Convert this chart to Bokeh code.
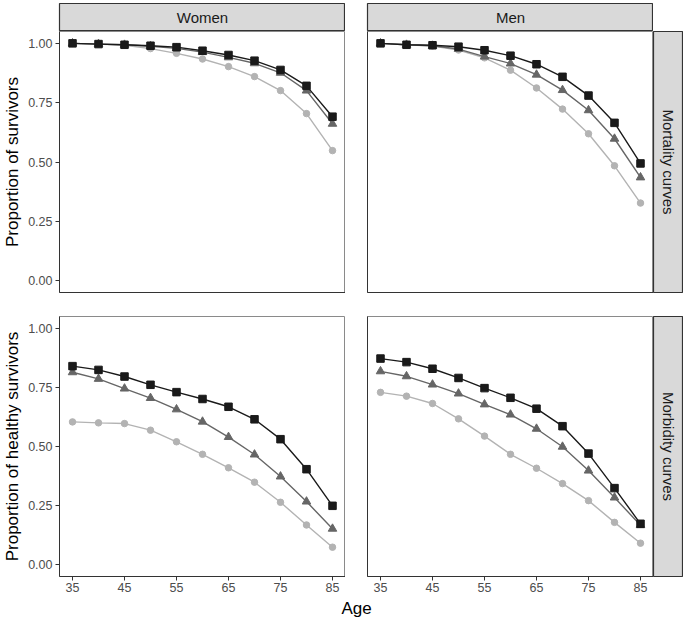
import math
from bokeh.plotting import figure
from bokeh.models import Range1d, Label, Spacer, FixedTicker
from bokeh.layouts import row, column
from bokeh.embed import file_html
from bokeh.resources import INLINE

# ---------------- data ----------------
ages = [35, 40, 45, 50, 55, 60, 65, 70, 75, 80, 85]
x_ticks = [35, 45, 55, 65, 75, 85]
y_ticks = [0.0, 0.25, 0.5, 0.75, 1.0]
y_tick_labels = ["0.00", "0.25", "0.50", "0.75", "1.00"]

col_labels = ["Women", "Men"]
row_labels = ["Mortality curves", "Morbidity curves"]
y_titles = ["Proportion of survivors", "Proportion of healthy survivors"]
x_title = "Age"

# Mortality curves
women_mort_square = [1.000, 0.997, 0.994, 0.990, 0.984, 0.969, 0.951, 0.927, 0.888, 0.821, 0.691]
women_mort_triangle = [1.000, 0.997, 0.994, 0.988, 0.979, 0.963, 0.941, 0.916, 0.876, 0.801, 0.661]
women_mort_circle = [1.000, 0.997, 0.992, 0.978, 0.958, 0.934, 0.902, 0.860, 0.801, 0.704, 0.548]

men_mort_square = [1.000, 0.994, 0.992, 0.986, 0.971, 0.948, 0.912, 0.859, 0.780, 0.665, 0.494]
men_mort_triangle = [1.000, 0.994, 0.990, 0.976, 0.944, 0.915, 0.868, 0.803, 0.718, 0.598, 0.435]
men_mort_circle = [1.000, 0.994, 0.989, 0.972, 0.939, 0.887, 0.812, 0.723, 0.619, 0.484, 0.327]

# Morbidity curves
women_morb_square = [0.840, 0.824, 0.796, 0.761, 0.730, 0.701, 0.668, 0.615, 0.531, 0.404, 0.249]
women_morb_triangle = [0.814, 0.786, 0.745, 0.705, 0.657, 0.605, 0.540, 0.466, 0.373, 0.267, 0.152]
women_morb_circle = [0.604, 0.600, 0.597, 0.569, 0.520, 0.467, 0.410, 0.349, 0.264, 0.168, 0.074]

men_morb_square = [0.872, 0.857, 0.829, 0.790, 0.747, 0.706, 0.660, 0.586, 0.470, 0.324, 0.173]
men_morb_triangle = [0.818, 0.797, 0.762, 0.724, 0.678, 0.635, 0.575, 0.499, 0.398, 0.284, 0.167]
men_morb_circle = [0.729, 0.713, 0.682, 0.617, 0.544, 0.467, 0.408, 0.343, 0.271, 0.179, 0.091]

# ---------------- style ----------------
FONT = "Liberation Sans"
C_SQ = "#1a1a1a"
C_TRI = "#666666"
C_CIR = "#b3b3b3"
STRIP_FILL = "#d9d9d9"
STRIP_LINE = "#333333"
OUTLINE = "#8a8a8a"
AXIS = "#333333"

FW = 286      # panel frame width
FH_TOP = 261
FH_BOT = 260
LEFT = 59     # left border (y axis)
GAP_X = 22
GAP_Y = 24
TOP_PAD = 3
STRIP_H = 28
STRIP_W = 30
BOTTOM = 22
AGE_H = 20


def make_panel(sq, tri, cir, fh, left_axis, bottom_axis, ylabel):
    p = figure(frame_width=FW, frame_height=fh,
               x_range=Range1d(32.5, 87.5), y_range=Range1d(-0.05, 1.05),
               output_backend="svg", toolbar_location=None,
               min_border_left=LEFT if left_axis else GAP_X,
               min_border_right=0, min_border_top=0,
               min_border_bottom=BOTTOM if bottom_axis else GAP_Y)
    p.xgrid.visible = False
    p.ygrid.visible = False
    p.outline_line_color = OUTLINE
    p.outline_line_width = 1
    p.background_fill_color = "white"
    p.border_fill_color = "white"

    for ax in (p.xaxis[0], p.yaxis[0]):
        ax.axis_line_color = AXIS
        ax.axis_line_width = 1
        ax.major_tick_line_color = AXIS
        ax.major_tick_out = 4
        ax.major_tick_in = 0
        ax.minor_tick_line_color = None
        ax.major_label_text_font = FONT
        ax.major_label_text_font_size = "12.5px"
        ax.major_label_text_color = "#4d4d4d"
        ax.major_label_standoff = 2
        ax.axis_label_text_font = FONT
        ax.axis_label_text_font_size = "17px"
        ax.axis_label_text_font_style = "normal"
        ax.axis_label_text_color = "black"

    if bottom_axis:
        p.xaxis.ticker = FixedTicker(ticks=x_ticks)
        p.xaxis.major_label_overrides = {t: str(t) for t in x_ticks}
    else:
        p.xaxis.ticker = FixedTicker(ticks=[])
    if left_axis:
        p.yaxis.ticker = FixedTicker(ticks=y_ticks)
        p.yaxis.major_label_overrides = dict(zip(y_ticks, y_tick_labels))
        p.yaxis.major_label_standoff = 3
        p.yaxis.axis_label = ylabel
        p.yaxis.axis_label_standoff = 3
    else:
        p.yaxis.ticker = FixedTicker(ticks=[])

    p.line(ages, cir, line_color=C_CIR, line_width=1.4)
    p.scatter(ages, cir, marker="circle", size=6.5, fill_color=C_CIR, line_color=C_CIR)
    p.line(ages, tri, line_color=C_TRI, line_width=1.4)
    p.scatter(ages, tri, marker="triangle", size=8.5, fill_color=C_TRI, line_color=C_TRI)
    p.line(ages, sq, line_color=C_SQ, line_width=1.4)
    p.scatter(ages, sq, marker="square", size=7.5, fill_color=C_SQ, line_color=C_SQ)
    return p


def make_strip(text, fw, fh, bl, bt, bb, vertical=False):
    s = figure(frame_width=fw, frame_height=fh,
               x_range=Range1d(0, 1), y_range=Range1d(0, 1),
               x_axis_type=None, y_axis_type=None,
               output_backend="svg", toolbar_location=None,
               min_border_left=bl, min_border_right=0,
               min_border_top=bt, min_border_bottom=bb)
    s.xgrid.visible = False
    s.ygrid.visible = False
    s.background_fill_color = STRIP_FILL
    s.border_fill_color = "white"
    s.outline_line_color = STRIP_LINE
    s.outline_line_width = 1.2
    s.add_layout(Label(x=0.5, y=0.5, text=text, text_align="center",
                       text_baseline="middle", text_font=FONT,
                       text_font_size="15px", text_color="#1a1a1a",
                       angle=-math.pi / 2 if vertical else 0))
    return s


strip_w = make_strip(col_labels[0], FW, STRIP_H, LEFT, TOP_PAD, 0)
strip_m = make_strip(col_labels[1], FW, STRIP_H, GAP_X, TOP_PAD, 0)
corner = Spacer(width=STRIP_W, height=STRIP_H + TOP_PAD)

p_tl = make_panel(women_mort_square, women_mort_triangle, women_mort_circle, FH_TOP, True, False, y_titles[0])
p_tr = make_panel(men_mort_square, men_mort_triangle, men_mort_circle, FH_TOP, False, False, None)
s_r1 = make_strip(row_labels[0], STRIP_W, FH_TOP, 0, 0, GAP_Y, vertical=True)

p_bl = make_panel(women_morb_square, women_morb_triangle, women_morb_circle, FH_BOT, True, True, y_titles[1])
p_br = make_panel(men_morb_square, men_morb_triangle, men_morb_circle, FH_BOT, False, True, None)
s_r2 = make_strip(row_labels[1], STRIP_W, FH_BOT, 0, 0, BOTTOM, vertical=True)

TOTAL_W = LEFT + FW + GAP_X + FW + STRIP_W
age = figure(width=TOTAL_W, height=AGE_H, x_range=Range1d(0, TOTAL_W), y_range=Range1d(0, AGE_H),
             x_axis_type=None, y_axis_type=None, output_backend="svg", toolbar_location=None,
             min_border=0)
age.xgrid.visible = False
age.ygrid.visible = False
age.outline_line_color = None
age.border_fill_color = "white"
age.add_layout(Label(x=LEFT + (FW + GAP_X + FW) / 2, y=AGE_H / 2, text=x_title,
                     text_align="center", text_baseline="middle", text_font=FONT,
                     text_font_size="17px", text_color="black"))

layout = column(row(strip_w, strip_m, corner),
                row(p_tl, p_tr, s_r1),
                row(p_bl, p_br, s_r2),
                age)

open("out.html", "w").write(file_html(layout, INLINE))
